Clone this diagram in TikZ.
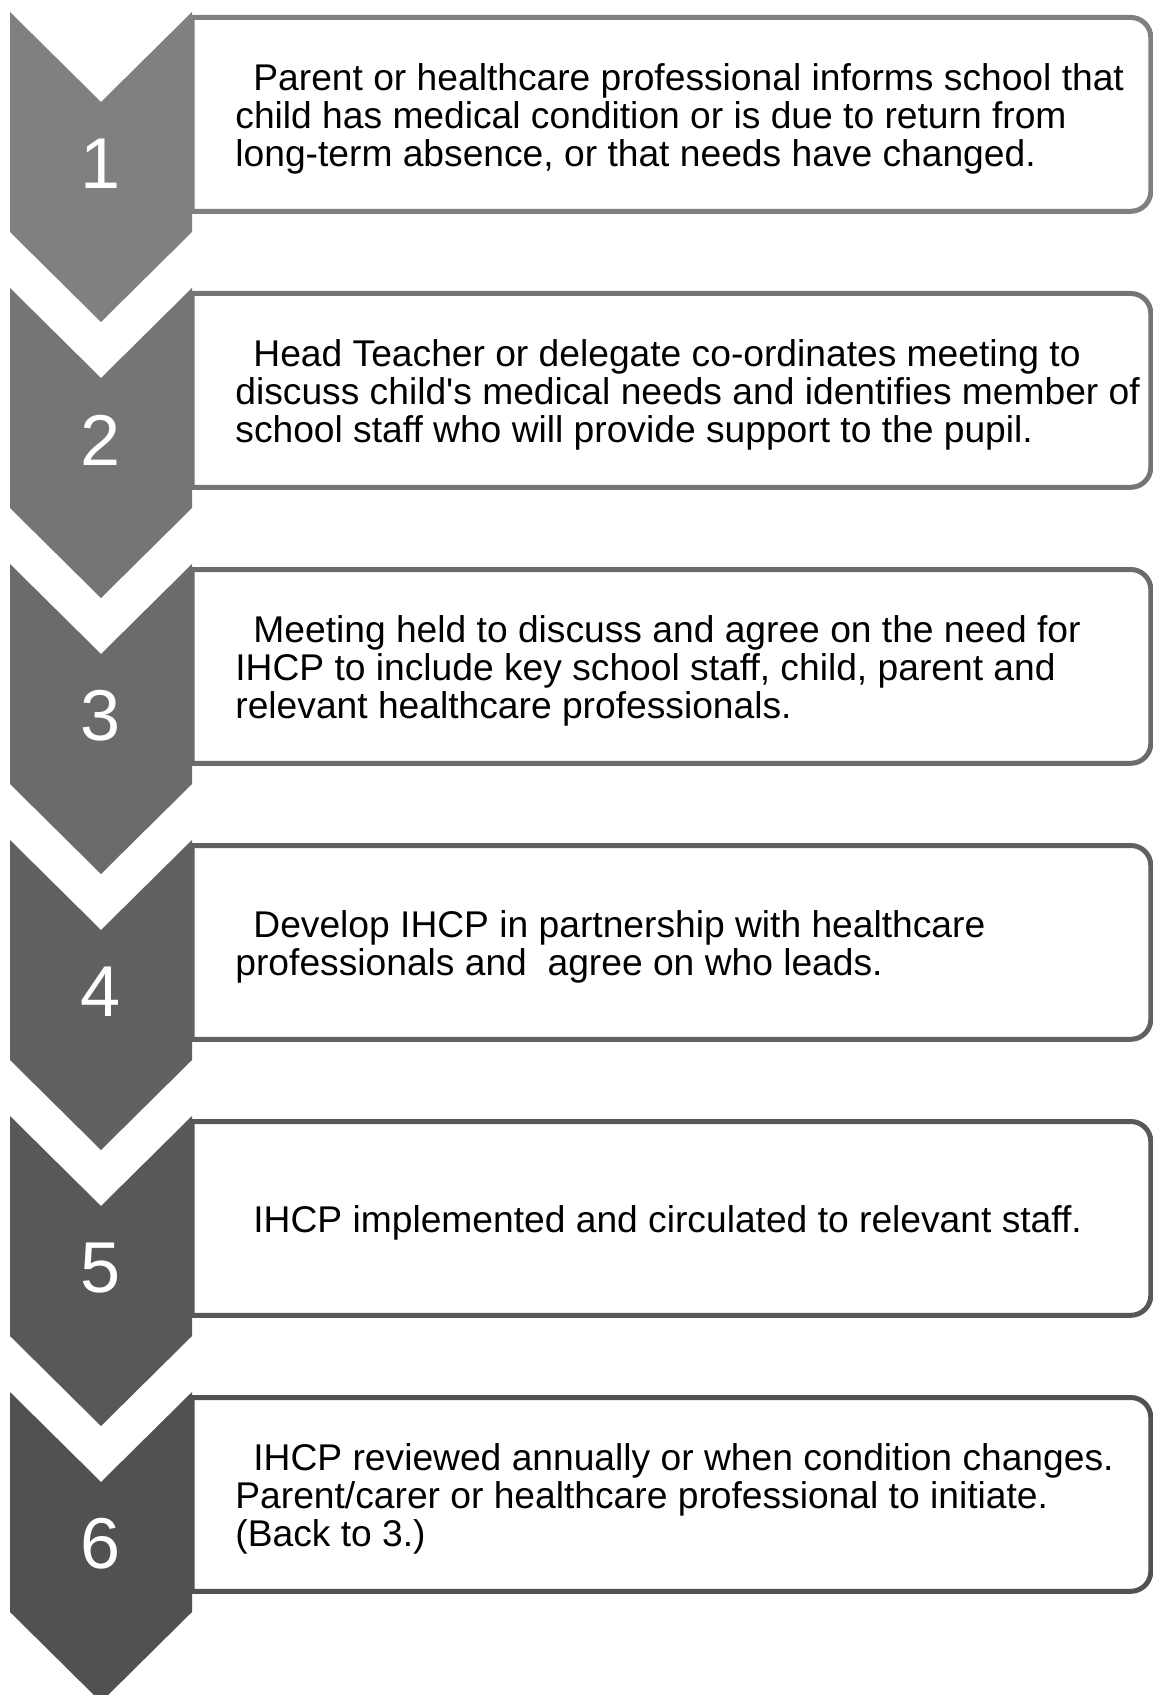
\documentclass[tikz,border=0pt]{standalone}
\usepackage{fontspec}
\setmainfont{Liberation Sans}
\usetikzlibrary{positioning}
\usetikzlibrary{calc}
\definecolor{c1}{RGB}{128,128,128}
\definecolor{c2}{RGB}{118,117,117}
\definecolor{c3}{RGB}{108,106,106}
\definecolor{c4}{RGB}{98,96,96}
\definecolor{c5}{RGB}{89,87,87}
\definecolor{c6}{RGB}{82,80,80}
\tikzstyle{stepbox}=[minimum width=479pt, minimum height=96.5pt, inner sep=0pt, anchor=north west]
\tikzstyle{frame}=[line width=2.5pt]
\tikzstyle{steptext}=[anchor=west, align=left, inner sep=0pt, font=\fontsize{18.6pt}{19pt}\selectfont]
\tikzstyle{stepnum}=[white, inner sep=0pt, font=\fontsize{36pt}{40pt}\selectfont]

\begin{document}
\begin{tikzpicture}[x=0.5pt, y=-0.5pt]
  \useasboundingbox (0,0) rectangle (1152,1695);
  \foreach \txt [count=\i] in {
    {Parent or healthcare professional informs school that\\child has medical condition or is due to return from\\long-term absence, or that needs have changed.},
    {Head Teacher or delegate co-ordinates meeting to\\discuss child\textquotesingle s medical needs and identifies member of\\school staff who will provide support to the pupil.},
    {Meeting held to discuss and agree on the need for\\IHCP to include key school staff, child, parent and\\relevant healthcare professionals.},
    {Develop IHCP in partnership with healthcare\\professionals and\ \ agree on who leads.},
    {IHCP implemented and circulated to relevant staff.},
    {IHCP reviewed annually or when condition changes.\\Parent/carer or healthcare professional to initiate.\\(Back to 3.)}}{
    \pgfmathsetmacro{\ytop}{12+276*(\i-1)}
    \node [stepbox] (box-\i) at (192,\ytop+5.5) {};
    \draw [frame, c\i] (box-\i.south west) -- (box-\i.north west) [rounded corners=10pt] -- (box-\i.north east) -- (box-\i.south east) [sharp corners] -- cycle;
    \fill [c\i] (10,\ytop) -- (101,\ytop+90) -- (192,\ytop) -- (192,\ytop+220) -- (101,\ytop+310) -- (10,\ytop+220) -- cycle;
    \node [stepnum] (num-\i) at (101,\ytop+152) {\i};
    \node [steptext] (text-\i) at ([xshift=21.5pt, yshift=-2pt]box-\i.west) {\hspace*{9pt}\txt};
  }
\end{tikzpicture}
\end{document}
